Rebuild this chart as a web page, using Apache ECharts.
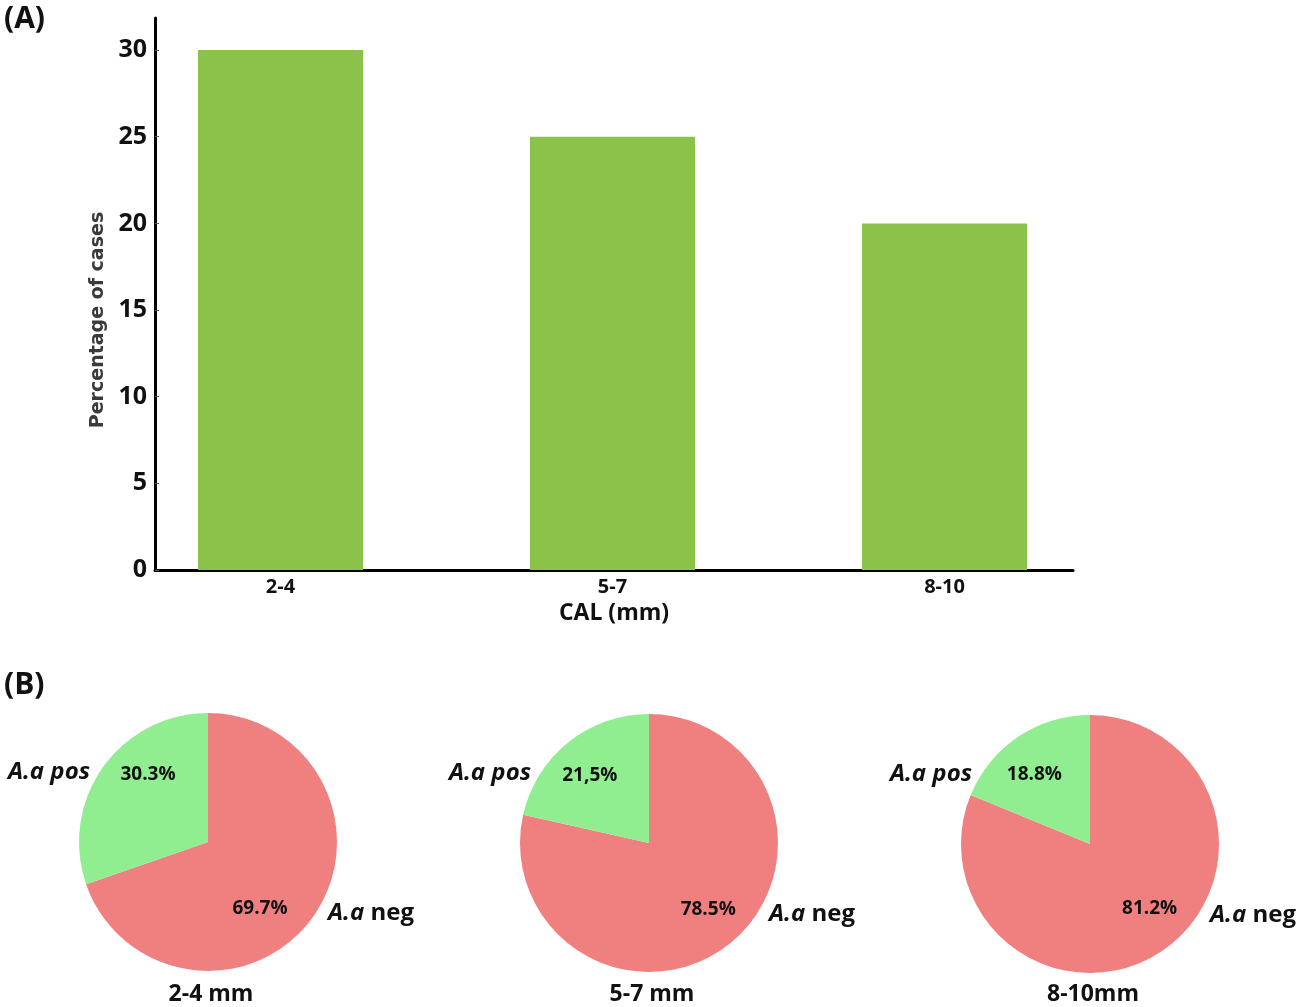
<!DOCTYPE html>
<html>
<head>
    <meta charset="utf-8">
    <title>CAL and A.a</title>
    <script src="https://cdn.jsdelivr.net/npm/echarts@6/dist/echarts.min.js"></script>
</head>
<body>
<style>
    html, body, #main {
        width: 100%;
        height: 100%;
        margin: 0;
        padding: 0;
        background: #fff;
    }
</style>

<div id="main"></div>

<script type="text/javascript">
// (A) bar chart
var calGroups = ['2-4', '5-7', '8-10'];
var casePercent = [30, 25, 20];

// (B) pies, one per CAL group
var pieTitles = ['2-4 mm', '5-7 mm', '8-10mm'];
var negPercent = [69.7, 78.5, 81.2];
var posPercent = [30.3, 21.5, 18.8];
var negText = ['69.7%', '78.5%', '81.2%'];
var posText = ['30.3%', '21,5%', '18.8%'];

var FONT = '"Open Sans", sans-serif';
var pieCenters = [[208, 842], [649, 843], [1090, 844]];
var pieR = 129;
// hand placed percentage labels (offset from the default inside spot)
var negOffsets = [[-3, 27], [17, 14], [22, 9]];
var posOffsets = [[-5, -28], [-17, -15], [-18, -13]];

var myChart = echarts.init(document.getElementById('main'));

var series = [{
    type: 'bar',
    xAxisIndex: 0,
    yAxisIndex: 0,
    barWidth: 165,
    itemStyle: { color: '#8bc34a' },
    data: calGroups.map(function (g, i) { return [i, casePercent[i]]; })
}];

var graphics = [
    { type: 'text', left: 4, top: 4, style: { text: '(A)', font: 'bold 30px ' + FONT, fill: '#111' } },
    { type: 'text', left: 4, top: 670, style: { text: '(B)', font: 'bold 30px ' + FONT, fill: '#111' } }
];

pieCenters.forEach(function (c, k) {
    series.push({
        type: 'pie',
        center: c,
        radius: pieR,
        startAngle: 90,
        clockwise: true,
        silent: true,
        label: {
            show: true,
            position: 'inside',
            fontFamily: FONT,
            fontWeight: 'bold',
            fontSize: 19,
            color: '#111'
        },
        labelLine: { show: false },
        itemStyle: { borderWidth: 0 },
        data: [
            { name: 'A.a neg', value: negPercent[k], itemStyle: { color: '#f08080' },
              label: { formatter: negText[k], offset: negOffsets[k] } },
            { name: 'A.a pos', value: posPercent[k], itemStyle: { color: '#90ee90' },
              label: { formatter: posText[k], offset: posOffsets[k] } }
        ]
    });

    graphics.push({
        type: 'text',
        x: c[0] - 159, y: c[1] - 70,
        style: {
            text: 'A.a pos', font: 'italic bold 24px ' + FONT, fill: '#111',
            align: 'center', verticalAlign: 'middle'
        }
    });
    graphics.push({
        type: 'text',
        x: c[0] + 163, y: c[1] + 71,
        style: {
            text: '{i|A.a} neg', font: 'bold 24px ' + FONT, fill: '#111',
            align: 'center', verticalAlign: 'middle',
            rich: { i: { fontStyle: 'italic', fontWeight: 'bold', fontSize: 24, fontFamily: FONT, fill: '#111' } }
        }
    });
    graphics.push({
        type: 'text',
        x: c[0] + 3, y: 994,
        style: {
            text: pieTitles[k], font: 'bold 23px ' + FONT, fill: '#111',
            align: 'center', verticalAlign: 'middle'
        }
    });
});

myChart.setOption({
    backgroundColor: '#fff',
    animation: false,
    textStyle: { fontFamily: FONT },
    grid: {
        left: 155,
        right: 226,
        top: 18,
        bottom: 437,
        outerBoundsMode: 'none'
    },
    xAxis: {
        type: 'value',
        min: -0.378,
        max: 2.387,
        splitLine: { show: false },
        axisLine: { show: true, onZero: false, lineStyle: { color: '#000', width: 3 } },
        axisTick: {
            show: true, inside: true, length: 4,
            customValues: [0, 1, 2],
            lineStyle: { color: '#555', width: 1 }
        },
        axisLabel: {
            customValues: [0, 1, 2],
            formatter: function (v) { return calGroups[Math.round(v)]; },
            margin: 7,
            fontFamily: FONT,
            fontWeight: 'bold',
            fontSize: 20,
            color: '#111'
        },
        name: 'CAL (mm)',
        nameLocation: 'middle',
        nameGap: 32,
        nameTextStyle: { fontFamily: FONT, fontWeight: 'bold', fontSize: 23, color: '#111' }
    },
    yAxis: {
        type: 'value',
        min: 0,
        max: 31.85,
        interval: 5,
        splitLine: { show: false },
        axisLine: { show: true, onZero: false, lineStyle: { color: '#000', width: 3 } },
        axisTick: { show: true, inside: true, length: 4, lineStyle: { color: '#555', width: 1 } },
        axisLabel: {
            showMaxLabel: false,
            margin: 8,
            fontFamily: FONT,
            fontWeight: 'bold',
            fontSize: 25,
            color: '#111'
        },
        name: 'Percentage of cases',
        nameLocation: 'middle',
        nameGap: 47,
        nameTextStyle: {
            fontFamily: '"DejaVu Sans", sans-serif', fontWeight: 'bold', fontSize: 19, color: '#3a3a3a',
            padding: [0, 52, 0, 0]
        }
    },
    graphic: graphics,
    series: series
});

window.onresize = function () {
    myChart.resize();
};
</script>
</body>
</html>
